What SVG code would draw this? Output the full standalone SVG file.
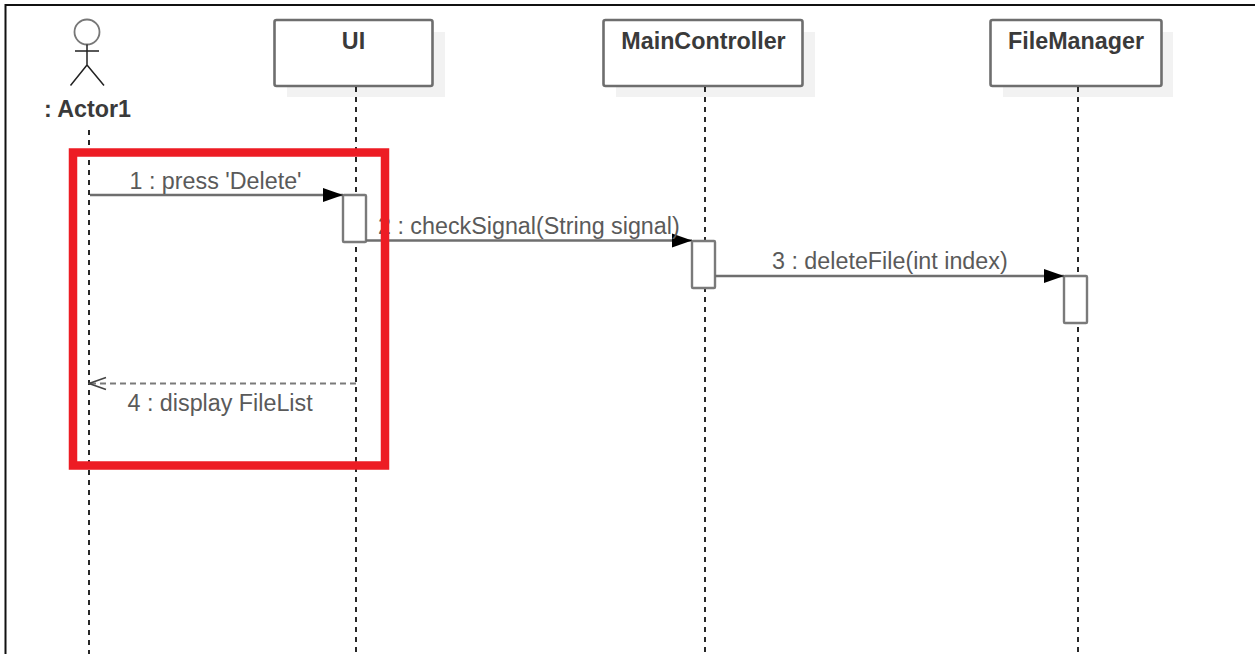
<svg xmlns="http://www.w3.org/2000/svg" width="1255" height="654" viewBox="0 0 1255 654">
<defs>
<marker id="solid" markerUnits="userSpaceOnUse" markerWidth="22" markerHeight="18" refX="20" refY="8" orient="auto"><path d="M0 1 L20 8 L0 15 Z" fill="#000"/></marker>
<marker id="open" markerUnits="userSpaceOnUse" markerWidth="20" markerHeight="18" refX="19" refY="8" orient="auto"><path d="M2 2 L19 8 L2 14" fill="none" stroke="#444" stroke-width="1.6"/></marker>
</defs>
<style>
text{font-family:"Liberation Sans",Arial,sans-serif;font-size:23.3px}
.name{font-weight:bold;fill:#3a3a3a;text-anchor:middle}
.msg{fill:#5a5a5a}
.box{fill:#fff;stroke:#6e6e6e;stroke-width:2.6}
.shadow{fill:#f2f2f2}
.life{stroke:#111;stroke-width:1.8;stroke-dasharray:5 5;fill:none}
.act{fill:#fff;stroke:#7a7a7a;stroke-width:2.4}
.conn{stroke:#6e6e6e;stroke-width:2.6;fill:none}
.dash{stroke:#7a7a7a;stroke-width:2.2;stroke-dasharray:6 4;fill:none}
.fig{stroke:#222;stroke-width:1.5;fill:none}
</style>
<rect x="0" y="0" width="1255" height="654" fill="#fff"/>
<path d="M5.500 654 V5 H1255" fill="none" stroke="#111" stroke-width="2"/>
<g id="ui">
<rect class="shadow" x="287" y="32" width="158" height="65"/>
<rect class="box" x="274.500" y="20" width="158" height="66" rx="2"/>
<text class="name" x="353.500" y="49">UI</text>
</g>
<g id="maincontroller">
<rect class="shadow" x="616" y="32" width="199" height="65"/>
<rect class="box" x="603.500" y="20" width="199" height="66" rx="2"/>
<text class="name" x="703.500" y="49">MainController</text>
</g>
<g id="filemanager">
<rect class="shadow" x="1003" y="32" width="170" height="65"/>
<rect class="box" x="990.500" y="20" width="171" height="66" rx="2"/>
<text class="name" x="1076" y="49">FileManager</text>
</g>
<g id="actor1">
<circle cx="87" cy="32" r="12.500" fill="#fff" stroke="#777" stroke-width="1.8"/>
<path class="fig" d="M87 44.500 V65 M75 51 H99 M87 65 L70.500 85.500 M87 65 L104 85.500"/>
<text class="name" x="87.500" y="117">: Actor1</text>
</g>
<g id="lifelines">
<line class="life" x1="89" y1="130" x2="89" y2="654"/>
<line class="life" x1="356" y1="87" x2="356" y2="654"/>
<line class="life" x1="705" y1="87" x2="705" y2="654"/>
<line class="life" x1="1078" y1="87" x2="1078" y2="654"/>
</g>
<g id="activations">
<rect class="act" x="343" y="195" width="23" height="47" rx="1"/>
<rect class="act" x="692" y="241" width="23" height="47" rx="1"/>
<rect class="act" x="1064" y="276" width="23" height="47" rx="1"/>
</g>
<g id="connectors">
<line class="conn" x1="90" y1="195" x2="343" y2="195" marker-end="url(#solid)"/>
<line class="conn" x1="366" y1="240.500" x2="692" y2="240.500" marker-end="url(#solid)"/>
<line class="conn" x1="715" y1="276" x2="1064" y2="276" marker-end="url(#solid)"/>
<line class="dash" x1="356" y1="383.500" x2="89" y2="383.500" marker-end="url(#open)"/>
</g>
<g id="labels">
<text class="msg" x="129.500" y="189">1 : press 'Delete'</text>
<text class="msg" x="378" y="234">2 : checkSignal(String signal)</text>
<text class="msg" x="772" y="269">3 : deleteFile(int index)</text>
<text class="msg" x="127.500" y="411">4 : display FileList</text>
</g>
<rect id="highlight" x="73" y="152.500" width="312" height="313" fill="none" stroke="#ed1c24" stroke-width="8.500"/>
</svg>
